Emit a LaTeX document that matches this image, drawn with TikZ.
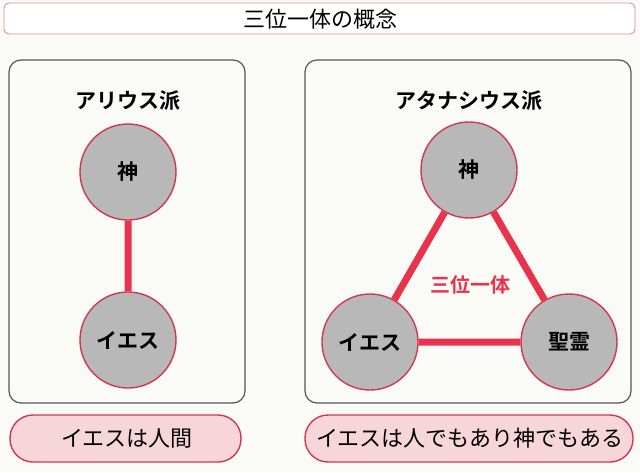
\documentclass[tikz,border=0pt]{standalone}
\usepackage{fontspec}
\setmainfont{Noto Sans CJK JP}[BoldFont={Noto Sans CJK JP Bold}]
\usetikzlibrary{positioning}

\definecolor{paper}{HTML}{FAFAF7}
\definecolor{ringred}{HTML}{D2384F}
\definecolor{linkred}{HTML}{E8334D}
\definecolor{titlepink}{HTML}{DE8C9A}
\definecolor{ballgray}{HTML}{B8B8B8}
\definecolor{framegray}{HTML}{555555}
\definecolor{pillpink}{HTML}{F7D6DB}

\begin{document}
\begin{tikzpicture}[
        x = 1pt, y = -1pt,
        node distance = 168pt,
        on grid,
        every node/.style = {inner sep = 0pt},
        person/.style = {circle, draw = ringred, line width = 1.4pt, fill = ballgray,
            minimum size = 96pt, font = \bfseries\fontsize{21}{21}\selectfont},
        link/.style = {draw = linkred, line width = 7pt},
        frame/.style = {draw = framegray, line width = 1.2pt, rounded corners = 12pt},
        heading/.style = {font = \bfseries\fontsize{21}{21}\selectfont},
        pill/.style = {draw = ringred, line width = 1.4pt, fill = pillpink, rounded corners = 23pt},
        verdict/.style = {font = \fontsize{22}{22}\selectfont}
    ]

        \useasboundingbox[fill = paper] (0,0) rectangle (640,472);

        % title bar
        \draw[draw = titlepink, line width = 0.9pt, rounded corners = 5pt, fill = white] (4,3) rectangle (635,34);
        \node[font = \fontsize{22}{22}\selectfont] (title) at (320,19) {三位一体の概念};

        % two frames
        \draw[frame] (9,60) rectangle (245,403);
        \draw[frame] (305,60) rectangle (631,403);

        \node[heading] (arius) at (128,101) {アリウス派};
        \node[heading] (athan) at (469,101) {アタナシウス派};

        % left: god above jesus
        \node[person] (lgod) at (128,172) {神};
        \node[person] (ljesus) [below = of lgod] {イエス};

        % right: the triangle
        \node[person] (rgod) at (469,170) {神};
        \node[person] (rjesus) [below left = 172pt and 99pt of rgod] {イエス};
        \node[person] (rspirit) [below right = 172pt and 100pt of rgod] {聖霊};

        \path[link]
            (lgod) -- (ljesus)
            (rgod) -- (rjesus)
            (rgod) -- (rspirit)
            (rjesus) -- (rspirit);

        \node[font = \bfseries\fontsize{20}{20}\selectfont, text = linkred] (trinity) at (470,285) {三位一体};

        % verdicts
        \draw[pill] (10,415) rectangle (241,462);
        \draw[pill] (305,415) rectangle (633,462);
        \node[verdict] (lsay) at (127,438) {イエスは人間};
        \node[verdict] (rsay) at (470,438) {イエスは人でもあり神でもある};

    \end{tikzpicture}
\end{document}
